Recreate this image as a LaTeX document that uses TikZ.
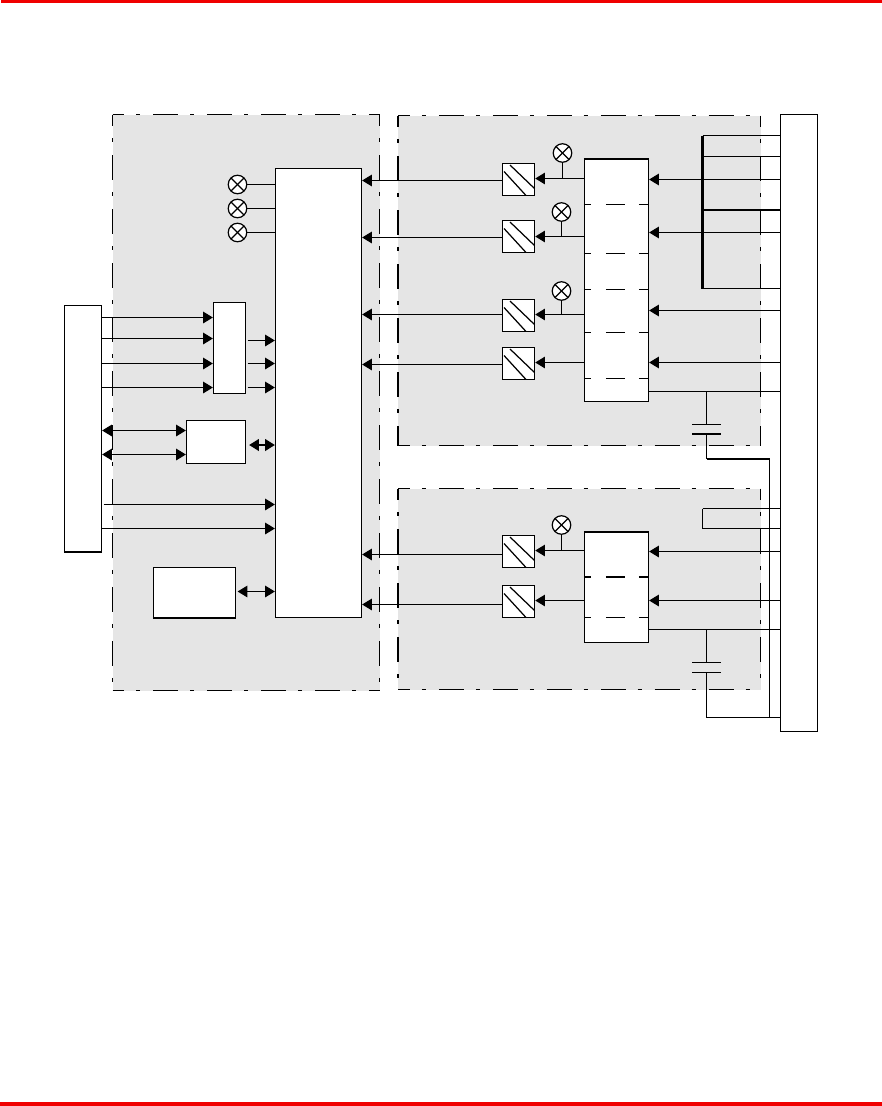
\documentclass[tikz,border=0pt]{standalone}
\usetikzlibrary{arrows.meta}
\definecolor{panelgray}{HTML}{E5E5E5}
\definecolor{rulered}{HTML}{F00000}
\tikzset{
    panelrule/.style={line width=0.7pt, dash pattern=on 14.2pt off 6.8pt on 2.3pt off 7.4pt, dash phase=7.4pt},
    unit/.style={draw, fill=white, line width=0.7pt, inner sep=0pt},
    relaybox/.style={unit, line width=0.85pt, minimum size=0.64cm, path picture={
            \draw[line width=0.7pt] ([xshift=0.15cm,yshift=-0.03cm]path picture bounding box.north west) -- ([yshift=0.14cm]path picture bounding box.south east);
            \draw[line width=0.7pt] ([xshift=0.03cm,yshift=-0.16cm]path picture bounding box.north west) -- ([xshift=-0.17cm]path picture bounding box.south east);
        }},
    lamp/.style={circle, draw, fill=white, line width=0.7pt, inner sep=0pt, minimum size=0.37cm, path picture={
            \draw (path picture bounding box.north west) -- (path picture bounding box.south east);
            \draw (path picture bounding box.north east) -- (path picture bounding box.south west);
        }},
    sep/.style={line width=0.7pt, dash pattern=on 4pt off 8.5pt on 10.8pt off 8pt on 5pt},
}
\begin{document}
\begin{tikzpicture}[x=0.02cm, y=-0.02cm, >={Stealth[inset=0pt, length=5.5pt, width=6.5pt]}, line width=0.7pt]
    \useasboundingbox (0,0) rectangle (882,1106);
    % Page rules
    \fill[rulered] (1,0) rectangle (882,3);
    \fill[rulered] (0,1102) rectangle (882,1106);
    % Panels
    \foreach \a/\b/\c/\d in {112.5/114.5/379.5/690.5, 398/115.5/760.5/445.5, 398/488.5/760.5/689.5} {
            \fill[panelgray] (\a,\b) rectangle (\c,\d);
            \draw[panelrule] (\a,\b) -- (\c,\b);
            \draw[panelrule] (\a,\d) -- (\c,\d);
            \draw[panelrule] (\a,\b) -- (\a,\d);
            \draw[panelrule] (\c,\b) -- (\c,\d);
        }
    % Boxes
    \node[unit, minimum width=0.74cm, minimum height=4.92cm] (edge) at (83,428.5) {};
    \node[unit, minimum width=0.64cm, minimum height=1.82cm] (mux) at (229.5,348) {};
    \node[unit, minimum width=1.18cm, minimum height=0.86cm] (iface) at (216,442) {};
    \node[unit, minimum width=1.64cm, minimum height=1cm] (mem) at (194.5,592.5) {};
    \node[unit, minimum width=1.72cm, minimum height=8.98cm] (cpu) at (318.5,393) {};
    \node[unit, minimum width=1.28cm, minimum height=4.84cm] (upper) at (616.5,280.5) {};
    \node[unit, minimum width=1.28cm, minimum height=2.2cm] (lower) at (616.5,587.5) {};
    \node[unit, minimum width=0.74cm, minimum height=12.34cm] (conn) at (799,423) {};
    % Thicker edges
    \draw[line width=1.2pt] (edge.south west) -- (edge.south east);
    \draw[line width=1.2pt] (mem.south west) -- (mem.south east);
    \draw[line width=1.2pt] (upper.north west) -- (upper.north east);
    \draw[line width=1.2pt] (lower.north west) -- (lower.north east);
    % Separators
    \foreach \y in {204.5, 253.5, 289.5, 332.5, 378.5} {
            \draw[sep] (upper.west |- 0,\y) -- (upper.east |- 0,\y);
        }
    \draw[sep, line width=1.1pt] (lower.west |- 0,577) -- (lower.east |- 0,577);
    \draw[sep] (lower.west |- 0,617.5) -- (lower.east |- 0,617.5);
    % Relays
    \node[relaybox] (kk1) at (518.5,179.5) {};
    \node[relaybox] (kk2) at (518.5,236.5) {};
    \node[relaybox] (kk3) at (518.5,315.5) {};
    \node[relaybox] (kk4) at (518.5,363.5) {};
    \node[relaybox] (kk5) at (518.5,551.5) {};
    \node[relaybox] (kk6) at (518.5,601.5) {};
    % Lamps
    \node[lamp] (la1) at (237.5,184.5) {};
    \node[lamp] (la2) at (237.5,208.5) {};
    \node[lamp] (la3) at (237.5,232.5) {};
    \node[lamp] (lb1) at (562.5,153) {};
    \node[lamp] (lb2) at (561.5,212) {};
    \node[lamp] (lb3) at (561.5,291) {};
    \node[lamp] (lb4) at (561.5,525) {};
    \foreach \n in {la1, la2, la3} {
            \draw (\n.east) -- (\n.east -| cpu.west);
        }
    % Block to relay
    \foreach \r/\y/\l in {kk1/178.5/lb1, kk2/236.5/lb2, kk3/314.5/lb3, kk5/550.5/lb4} {
            \draw[->] (upper.west |- 0,\y) -- (\r.east |- 0,\y);
            \draw (\l.south) -- (\l.south |- 0,\y);
        }
    \draw[->] (upper.west |- 0,362.5) -- (kk4.east |- 0,362.5);
    \draw[->] (lower.west |- 0,600.5) -- (kk6.east |- 0,600.5);
    % Relay to controller
    \foreach \r/\y in {kk1/180.5, kk2/237.5, kk3/314.5, kk4/364.5, kk5/554.5, kk6/604.5} {
            \draw[->] (\r.west |- 0,\y) -- (cpu.east |- 0,\y);
        }
    % Connector to blocks
    \foreach \y in {179.5, 232.5, 310.5, 362.5} {
            \draw[->] (conn.west |- 0,\y) -- (upper.east |- 0,\y);
        }
    \foreach \y in {551.5, 600.5} {
            \draw[->] (conn.west |- 0,\y) -- (lower.east |- 0,\y);
        }
    % Bus bars
    \coordinate (busa) at (702.5,135.5);
    \coordinate (busb) at (702.5,288.5);
    \coordinate (busc) at (702.5,508.5);
    \coordinate (busd) at (702.5,528.5);
    \draw[line width=1.2pt] (busa) -- (busb);
    \draw (busa) -- (busa -| conn.west);
    \draw (busb) -- (busb -| conn.west);
    \draw (702.5,156.5) -- (conn.west |- 0,156.5);
    \draw[line width=1.2pt] (702.5,210) -- (conn.west |- 0,210);
    \draw (busc) -- (busd);
    \draw (busc) -- (busc -| conn.west);
    \draw (busd) -- (busd -| conn.west);
    % Capacitors
    \coordinate (ca) at (706.5,391.5);
    \coordinate (cb) at (706.5,424.5);
    \coordinate (cc) at (706.5,434);
    \coordinate (cd) at (706.5,459);
    \coordinate (ce) at (769.5,459);
    \coordinate (cf) at (706.5,629.5);
    \coordinate (cg) at (706.5,662.5);
    \coordinate (ch) at (706.5,672.5);
    \coordinate (ci) at (706.5,717.5);
    \draw (upper.east |- ca) -- (conn.west |- ca);
    \draw (lower.east |- cf) -- (conn.west |- cf);
    \draw (ca) -- (cb);
    \draw ([xshift=-0.29cm]cb) -- ([xshift=0.29cm]cb);
    \draw[line width=1.2pt] ([xshift=-0.29cm]cc) -- ([xshift=0.29cm]cc);
    \draw (cc) -- (cd);
    \draw[line width=1.2pt] (cd) -- (ce);
    \draw (ce) -- (ce |- ci);
    \draw (cf) -- (cg);
    \draw ([xshift=-0.29cm]cg) -- ([xshift=0.29cm]cg);
    \draw ([xshift=-0.29cm]ch) -- ([xshift=0.29cm]ch);
    \draw (ch) -- (ci) -- (ci -| conn.west);
    % Left side
    \foreach \y in {317.5, 338.5, 363.5, 387.5} {
            \draw[->] (edge.east |- 0,\y) -- (mux.west |- 0,\y);
        }
    \foreach \y in {340.5, 363.5, 387.5} {
            \draw[->] ([xshift=0.03cm]mux.east |- 0,\y) -- (cpu.west |- 0,\y);
        }
    \foreach \y in {430.5, 454.5} {
            \draw[<->] (edge.east |- 0,\y) -- (iface.west |- 0,\y);
        }
    \draw[<->, line width=1.2pt] ([xshift=0.06cm]iface.east |- 0,445) -- (cpu.west |- 0,445);
    \draw[->] ([xshift=0.03cm]edge.east |- 0,504.5) -- (cpu.west |- 0,504.5);
    \draw[->] (edge.east |- 0,528.5) -- (cpu.west |- 0,528.5);
    \draw[<->] ([xshift=0.03cm]mem.east |- 0,591.5) -- (cpu.west |- 0,591.5);
\end{tikzpicture}
\end{document}
